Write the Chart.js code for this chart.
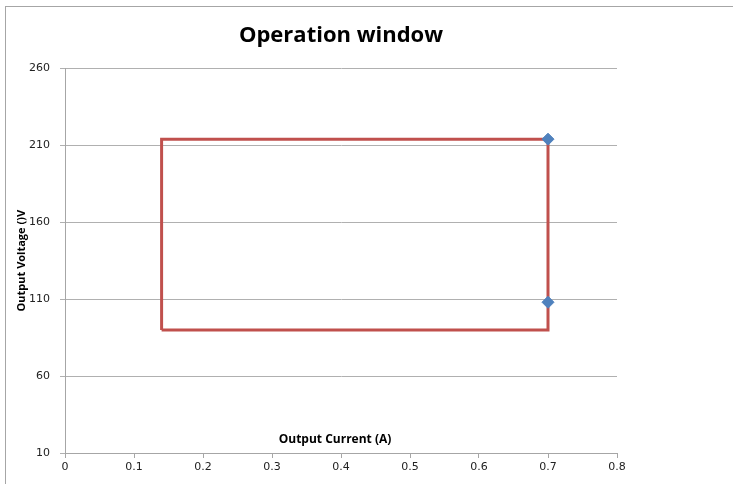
<!DOCTYPE html>
<html>
<head>
<meta charset="utf-8">
<script src="https://cdn.jsdelivr.net/npm/chart.js@4/dist/chart.umd.min.js"></script>
<style>
  body { margin: 0; background: #fff; }
  #wrap { position: relative; width: 733px; height: 484px; }
  #frame { position: absolute; left: 5px; top: 6px; right: 0; bottom: 0; border-left: 1px solid #a6a6a6; border-top: 1px solid #a6a6a6; }
  canvas { position: absolute; left: 0; top: 0; }
</style>
</head>
<body>
<div id="wrap">
  <div id="frame"></div>
  <canvas id="grafico" width="733" height="484"></canvas>
</div>
<script>
// window outline (current A, voltage V)
var janelaX = [0.14, 0.14, 0.7, 0.7, 0.14];
var janelaY = [90, 214, 214, 90, 90];
// measured points
var pontosX = [0.7, 0.7];
var pontosY = [214, 108];
var yTicks = [10, 60, 110, 160, 210, 260];

var janela = janelaX.map(function(x, i) { return { x: x, y: janelaY[i] }; });
var pontos = pontosX.map(function(x, i) { return { x: x, y: pontosY[i] }; });

// x title sits inside the plot, just above the axis
var tituloX = {
  id: 'tituloX',
  afterDraw: function(chart) {
    var ctx = chart.ctx;
    var a = chart.chartArea;
    ctx.save();
    ctx.font = 'bold 12px "Open Sans"';
    ctx.fillStyle = '#000';
    ctx.textAlign = 'center';
    ctx.textBaseline = 'middle';
    ctx.fillText('Output Current (A)', 335, a.bottom - 13);
    ctx.restore();
  }
};

new Chart(document.getElementById("grafico"), {
  type: 'scatter',
  data: {
    datasets: [{
      label: 'Window',
      data: janela,
      showLine: true,
      borderColor: '#c0504d',
      borderWidth: 3,
      pointRadius: 0,
      fill: false,
      order: 2
    }, {
      label: 'Points',
      data: pontos,
      pointStyle: 'rectRot',
      pointRadius: 6,
      backgroundColor: '#4f81bd',
      borderColor: '#4f81bd',
      showLine: false,
      order: 1
    }]
  },
  options: {
    responsive: false,
    animation: false,
    layout: { padding: { left: 0, right: 116, top: 0, bottom: 0 } },
    plugins: {
      legend: { display: false },
      tooltip: { enabled: false },
      title: {
        display: true,
        fullSize: false,
        text: 'Operation window',
        color: '#000',
        font: { family: '"Open Sans"', size: 22, weight: 'bold' },
        padding: { top: 23, bottom: 19 }
      }
    },
    scales: {
      x: {
        type: 'linear',
        min: 0,
        max: 0.8,
        ticks: {
          stepSize: 0.1,
          color: '#222',
          font: { family: '"DejaVu Sans"', size: 11 },
          padding: 3,
          callback: function(v) { return Math.round(v * 10) / 10; }
        },
        grid: { drawOnChartArea: false, drawTicks: true, tickLength: 5, color: '#a6a6a6' },
        border: { color: '#a6a6a6' },
        afterFit: function(s) { s.height = 31; }
      },
      y: {
        min: 10,
        max: 260,
        afterBuildTicks: function(s) { s.ticks = yTicks.map(function(v) { return { value: v }; }); },
        ticks: {
          color: '#222',
          font: { family: '"DejaVu Sans"', size: 11 },
          padding: 10
        },
        grid: { color: '#b0b0b0', tickLength: 5 },
        border: { color: '#a6a6a6' },
        title: {
          display: true,
          text: 'Output Voltage ()V',
          color: '#000',
          font: { family: '"Open Sans"', size: 11, weight: 'bold' },
          padding: { top: 15, bottom: 0 }
        },
        afterFit: function(s) { s.width = 65; }
      }
    }
  },
  plugins: [tituloX]
});
</script>
</body>
</html>
